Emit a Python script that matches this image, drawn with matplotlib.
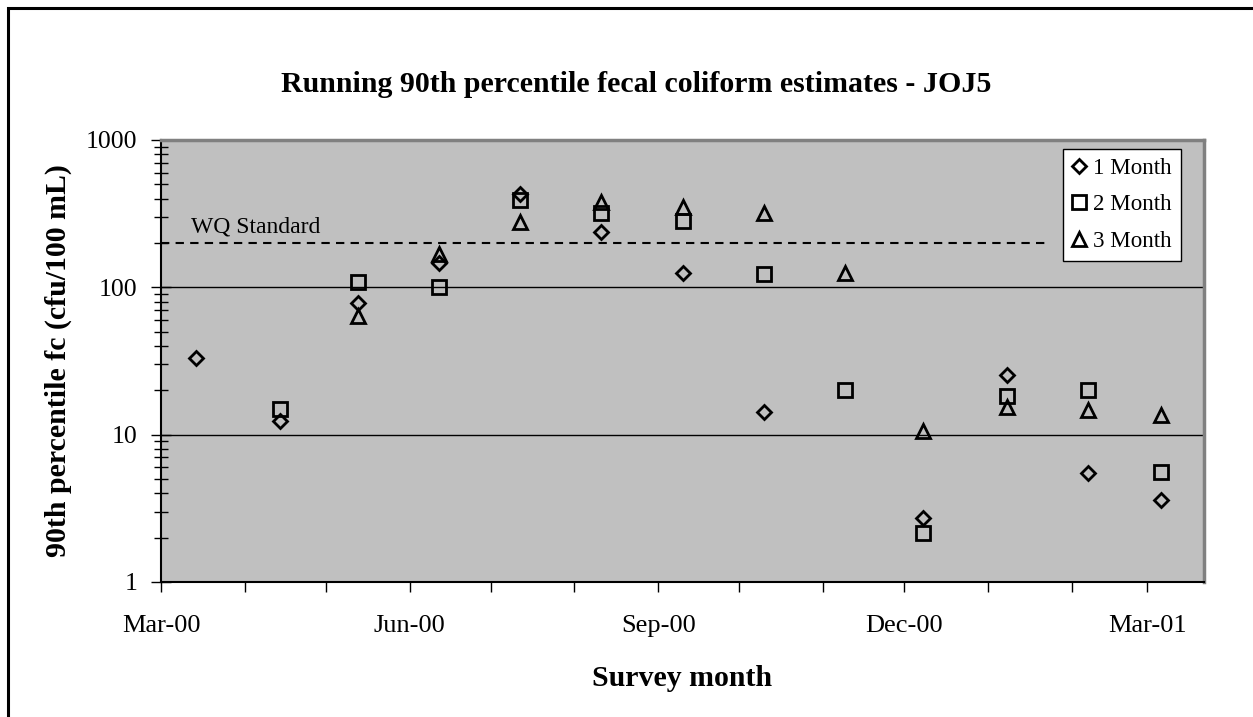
import numpy as np
import matplotlib.pyplot as plt
import matplotlib.dates as mdates
from matplotlib.patches import Rectangle
from datetime import date

plt.rcParams['font.family'] = ['Liberation Serif', 'DejaVu Serif']

# survey dates and running 90th percentile estimates (cfu/100 mL)
dates = [date(2000, 3, 14), date(2000, 4, 14), date(2000, 5, 13), date(2000, 6, 12),
         date(2000, 7, 12), date(2000, 8, 11), date(2000, 9, 10), date(2000, 10, 10),
         date(2000, 11, 9), date(2000, 12, 8), date(2001, 1, 8), date(2001, 2, 7),
         date(2001, 3, 6)]
one_month = [33, 12.4, 78, 147, 430, 239, 126, 14.2, np.nan, 2.7, 25.4, 5.5, 3.6]
two_month = [np.nan, 14.9, 108, 100.5, 393, 318, 282, 123, 20.1, 2.14, 18.4, 20.1, 5.55]
three_month = [np.nan, np.nan, 64, 168, 276, 381, 353, 321, 125, 10.6, 15.3, 14.7, 13.6]
wq_standard = 200
std_start, std_end = date(2000, 3, 1), date(2001, 1, 22)
xlim = (date(2000, 3, 1), date(2001, 3, 22))

fig = plt.figure(figsize=(12.53, 7.17), dpi=100)
ax = fig.add_axes([161/1253, 1 - 582/717, (1204 - 161)/1253, (582 - 140)/717])
ax.set_facecolor('#C0C0C0')

# outer chart border
fig.patches.append(Rectangle((8/1253, -0.1), 1.2, 1 - 8/717 + 0.1, transform=fig.transFigure,
                             fill=False, edgecolor='black', linewidth=2.2))

ax.set_yscale('log')
ax.set_ylim(1, 1000)
ax.set_xlim(mdates.date2num(xlim[0]), mdates.date2num(xlim[1]))

for y in [10, 100]:
    ax.axhline(y, color='black', linewidth=1.0, zorder=1)

ax.plot([std_start, std_end], [wq_standard, wq_standard], color='black', linestyle=(0, (4, 3)),
        linewidth=1.5, zorder=2)
ax.text(mdates.date2num(date(2000, 3, 12)), 255, 'WQ Standard', fontsize=17, va='center', ha='left')

ms = 10
ax.plot(dates, one_month, linestyle='none', marker='D', markersize=ms*0.72, markerfacecolor='none',
        markeredgecolor='black', markeredgewidth=2, label='1 Month', zorder=3)
ax.plot(dates, two_month, linestyle='none', marker='s', markersize=ms*0.95, markerfacecolor='none',
        markeredgecolor='black', markeredgewidth=2, label='2 Month', zorder=3)
ax.plot(dates, three_month, linestyle='none', marker='^', markersize=ms, markerfacecolor='none',
        markeredgecolor='black', markeredgewidth=2, label='3 Month', zorder=3)

ax.xaxis.set_major_locator(mdates.MonthLocator(bymonth=[3, 6, 9, 12]))
ax.xaxis.set_minor_locator(mdates.MonthLocator())
ax.xaxis.set_major_formatter(mdates.DateFormatter('%b-%y'))
ax.tick_params(axis='x', which='both', direction='out', length=7, width=1, pad=17, labelsize=19)
ax.tick_params(axis='y', which='major', direction='inout', length=14, width=1, pad=10, labelsize=18.5)
ax.tick_params(axis='y', which='minor', direction='inout', length=10, width=1)
ax.yaxis.set_major_formatter(plt.FuncFormatter(lambda v, p: f'{v:g}'))
ax.yaxis.set_minor_formatter(plt.NullFormatter())

ax.spines['left'].set_color('black')
ax.spines['bottom'].set_color('black')
ax.spines['left'].set_linewidth(1.5)
ax.spines['bottom'].set_linewidth(1.5)
ax.spines['top'].set_color('#808080')
ax.spines['right'].set_color('#808080')
ax.spines['top'].set_linewidth(2.5)
ax.spines['right'].set_linewidth(2.5)

ax.set_xlabel('Survey month', fontsize=21.5, fontweight='bold', labelpad=20)
ax.set_ylabel('90th percentile fc (cfu/100 mL)', fontsize=21.5, fontweight='bold', labelpad=10)
fig.text(636/1253, 1 - 84/717, 'Running 90th percentile fecal coliform estimates - JOJ5',
         fontsize=21.5, fontweight='bold', ha='center', va='center')

leg = ax.legend(loc='upper right', bbox_to_anchor=(1181/1253, 1 - 149/717), bbox_transform=fig.transFigure,
                fontsize=16.6, frameon=True, fancybox=False, edgecolor='black', framealpha=1,
                handlelength=0.6, handletextpad=0.3, borderpad=0.4, labelspacing=0.65, borderaxespad=0)
leg.get_frame().set_linewidth(1)

fig.savefig('out.png', dpi=100)
